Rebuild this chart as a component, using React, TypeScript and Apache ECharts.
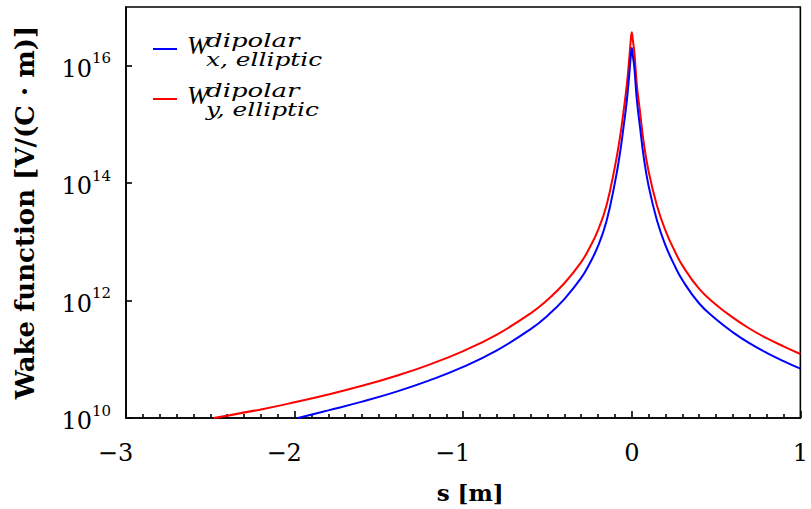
import React, { useEffect, useRef } from "react";
import * as echarts from "echarts";

// s positions [m] and wake amplitudes [V/(C·m)] for each plane
const sX = [
  -1.98, -1.8, -1.6, -1.4, -1.2, -1.0, -0.8, -0.6, -0.5, -0.4, -0.3, -0.25, -0.2, -0.15,
  -0.1, -0.07, -0.05, -0.03, -0.015, -0.007, 0, 0.007, 0.015, 0.03, 0.05, 0.07, 0.1, 0.15,
  0.2, 0.25, 0.3, 0.4, 0.5, 0.6, 0.7, 0.8, 0.9, 1.0,
];
const wX = [
  1.0e10, 1.35e10, 1.9e10, 2.79e10, 4.37e10, 7.41e10, 1.42e11, 3.26e11, 5.53e11, 1.06e12,
  2.43e12, 4.27e12, 8.51e12, 2.24e13, 1.02e14, 3.24e14, 8.51e14, 2.45e15, 7.08e15, 1.35e16,
  2.0e16, 1.41e16, 9.55e15, 2.63e15, 8.51e14, 2.88e14, 8.91e13, 2.29e13, 8.71e12, 4.17e12,
  2.24e12, 8.91e11, 4.79e11, 2.88e11, 1.86e11, 1.29e11, 9.33e10, 6.92e10,
];

const sY = [
  -2.48, -2.2, -2.0, -1.8, -1.6, -1.4, -1.2, -1.0, -0.8, -0.6, -0.5, -0.4, -0.3, -0.25, -0.2,
  -0.15, -0.1, -0.07, -0.05, -0.03, -0.015, -0.007, 0, 0.007, 0.015, 0.03, 0.05, 0.07, 0.1,
  0.15, 0.2, 0.25, 0.3, 0.4, 0.5, 0.6, 0.7, 0.8, 0.9, 1.0,
];
const wY = [
  1.0e10, 1.4e10, 1.85e10, 2.51e10, 3.53e10, 5.2e10, 8.13e10, 1.38e11, 2.64e11, 6.07e11,
  1.03e12, 1.97e12, 4.53e12, 7.94e12, 1.58e13, 4.17e13, 1.91e14, 6.03e14, 1.58e15, 4.57e15,
  1.32e16, 2.51e16, 3.72e16, 2.63e16, 1.74e16, 4.79e15, 1.55e15, 5.13e14, 1.58e14, 4.07e13,
  1.55e13, 7.41e12, 3.98e12, 1.58e12, 8.51e11, 5.13e11, 3.31e11, 2.29e11, 1.66e11, 1.23e11,
];

const seriesNames = ["W_x dipolar elliptic", "W_y dipolar elliptic"];
const seriesColors = ["#0000ff", "#ff0000"];
const legendSup = "dipolar";
const legendSub = ["x, elliptic", "y, elliptic"];

const SERIF = '"DejaVu Serif", "Liberation Serif", serif';
const TIMES = '"Liberation Serif", serif';

export default function App() {
  const ref = useRef<HTMLDivElement>(null);

  useEffect(() => {
    document.body.style.margin = "0";
    if (!ref.current) return;
    const chart = echarts.init(ref.current, null, { renderer: "svg" });

    // legend: short coloured line, then W with stacked super/subscripts
    const legendItems: any[] = [];
    [0, 1].forEach((i) => {
      const y0 = 49 + i * 50;
      legendItems.push(
        {
          type: "line",
          shape: { x1: 153, y1: y0, x2: 177, y2: y0 },
          style: { stroke: seriesColors[i], lineWidth: 2 },
        },
        {
          type: "text",
          x: 187,
          y: y0 - 4,
          style: {
            text: "W",
            font: `italic 26px ${TIMES}`,
            fill: "#000",
            verticalAlign: "middle",
          },
        },
        {
          type: "text",
          x: 206,
          y: y0 - 9,
          scaleX: 1.37,
          style: {
            text: legendSup,
            font: `italic 19px ${SERIF}`,
            fill: "#000",
            verticalAlign: "middle",
          },
        },
        {
          type: "text",
          x: 206,
          y: y0 + 10,
          scaleX: 1.31,
          style: {
            text: legendSub[i],
            font: `italic 19px ${SERIF}`,
            fill: "#000",
            verticalAlign: "middle",
          },
        }
      );
    });

    chart.setOption({
      animation: false,
      grid: {
        left: 126,
        right: 3,
        top: 7,
        bottom: 84,
        show: true,
        borderColor: "#000",
        borderWidth: 1.6,
        backgroundColor: "transparent",
      },
      xAxis: {
        type: "value",
        min: -3,
        max: 1,
        interval: 1,
        name: "s [m]",
        nameLocation: "middle",
        nameGap: 63,
        nameTextStyle: {
          fontFamily: SERIF,
          fontWeight: "bold",
          fontSize: 23,
          color: "#000",
          padding: [0, 0, 0, 14],
        },
        axisLine: { show: true, onZero: false, lineStyle: { color: "#000", width: 1.6 } },
        axisTick: { show: true, inside: true, length: 7, lineStyle: { color: "#000", width: 1.6 } },
        minorTick: { show: true, splitNumber: 10, length: 4, lineStyle: { color: "#000", width: 1.6 } },
        splitLine: { show: false },
        axisLabel: {
          margin: 23,
          formatter: (v: number) =>
            v < 0 ? `{m|\u2212}{dn|${Math.abs(v)}}` : `{d|${v}}`,
          rich: {
            m: { fontFamily: SERIF, fontSize: 24, color: "#000" },
            d: { fontFamily: SERIF, fontSize: 24, color: "#000" },
            dn: { fontFamily: SERIF, fontSize: 24, color: "#000", padding: [0, 21, 0, 0] },
          },
        },
      },
      yAxis: {
        type: "log",
        logBase: 10,
        min: 1e10,
        max: 1e17,
        interval: 2,
        name: "Wake function [V/(C \u00b7 m)]",
        nameLocation: "middle",
        nameGap: 88,
        nameTextStyle: {
          fontFamily: SERIF,
          fontWeight: "bold",
          fontSize: 26,
          color: "#000",
        },
        axisLine: { show: true, onZero: false, lineStyle: { color: "#000", width: 1.6 } },
        axisTick: { show: true, inside: true, length: 6, lineStyle: { color: "#000", width: 1.6 } },
        minorTick: { show: false },
        splitLine: { show: false },
        axisLabel: {
          showMaxLabel: false,
          margin: 15,
          formatter: (v: number) => {
            const e = Math.round(Math.log10(v));
            if (e % 2 !== 0) return "";
            return `{b|10}{s|${e}}`;
          },
          rich: {
            b: { fontFamily: SERIF, fontSize: 24, color: "#000", verticalAlign: "bottom", lineHeight: 30 },
            s: { fontFamily: SERIF, fontSize: 15, color: "#000", verticalAlign: "top", lineHeight: 30 },
          },
        },
      },
      series: [
        {
          name: seriesNames[0],
          type: "line",
          data: sX.map((s, i) => [s, wX[i]]),
          showSymbol: false,
          smooth: 0.45,
          clip: true,
          lineStyle: { color: seriesColors[0], width: 2 },
          z: 3,
        },
        {
          name: seriesNames[1],
          type: "line",
          data: sY.map((s, i) => [s, wY[i]]),
          showSymbol: false,
          smooth: 0.45,
          clip: true,
          lineStyle: { color: seriesColors[1], width: 2 },
          z: 2,
        },
      ],
      graphic: legendItems,
    });

    return () => chart.dispose();
  }, []);

  return <div ref={ref} style={{ width: 811, height: 509 }} />;
}
